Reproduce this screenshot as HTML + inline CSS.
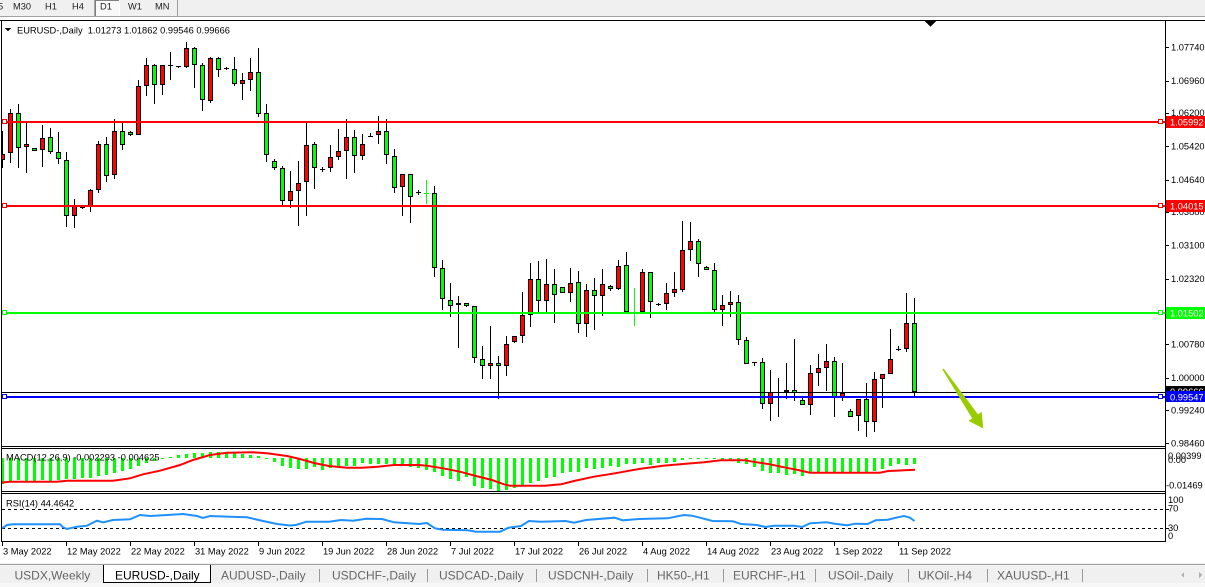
<!DOCTYPE html>
<html><head><meta charset="utf-8">
<style>
html,body{margin:0;padding:0;background:#fff;}
body{width:1205px;height:587px;overflow:hidden;position:relative;font-family:"Liberation Sans",Arial,sans-serif;}
svg{position:absolute;left:0;top:0;}
</style></head><body>
<svg id="s" width="1205" height="587" viewBox="0 0 1205 587" xmlns="http://www.w3.org/2000/svg" shape-rendering="crispEdges" font-family="Liberation Sans, Arial, sans-serif">
<defs>
<clipPath id="cm"><rect x="2" y="21" width="1163" height="425"/></clipPath>
<clipPath id="cd"><rect x="2" y="449" width="1163" height="42"/></clipPath>
<clipPath id="cr"><rect x="2" y="494" width="1163" height="47"/></clipPath>
</defs>
<rect x="0" y="0" width="1205" height="587" fill="#fff"/>
<!-- toolbar -->
<rect x="0" y="0" width="1205" height="17" fill="#f0f0f0"/>
<rect x="95" y="0" width="24" height="16" fill="#f9f9f9"/>
<line x1="0" y1="16.5" x2="1205" y2="16.5" stroke="#a0a0a0"/>
<line x1="94.5" y1="0" x2="94.5" y2="16" stroke="#a0a0a0"/>
<line x1="95.5" y1="0" x2="95.5" y2="16" stroke="#808080"/>
<line x1="95" y1="0.5" x2="119" y2="0.5" stroke="#808080"/>
<line x1="119.5" y1="0" x2="119.5" y2="16" stroke="#ffffff"/>
<line x1="177.5" y1="0" x2="177.5" y2="16" stroke="#a0a0a0"/>
<g font-size="9.3" fill="#222">
<text x="-2" y="9.5">5</text><text x="13" y="9.5">M30</text><text x="45" y="9.5">H1</text><text x="72" y="9.5">H4</text>
<text x="100" y="9.5">D1</text><text x="128" y="9.5">W1</text><text x="155" y="9.5">MN</text>
</g>
<!-- frames -->
<g stroke="#000" fill="none">
<line x1="0" y1="20.5" x2="1205" y2="20.5"/>
<line x1="1.5" y1="20" x2="1.5" y2="542"/>
<line x1="1165.5" y1="20" x2="1165.5" y2="542"/>
<line x1="1" y1="446.5" x2="1166" y2="446.5"/>
<line x1="1" y1="448.5" x2="1166" y2="448.5"/>
<line x1="1" y1="491.5" x2="1166" y2="491.5"/>
<line x1="1" y1="493.5" x2="1166" y2="493.5"/>
<line x1="1" y1="541.5" x2="1166" y2="541.5"/>
</g>
<polygon points="925,21 936,21 930.5,27" fill="#000"/>
<g id="candles" clip-path="url(#cm)"></g>
<!-- horizontal lines -->
<rect x="2" y="121" width="1163" height="2" fill="#ff0000"/>
<rect x="2" y="205" width="1163" height="2" fill="#ff0000"/>
<rect x="2" y="312" width="1163" height="2" fill="#00ff00"/>
<line x1="2" y1="392.5" x2="1165" y2="392.5" stroke="#000"/>
<rect x="2" y="396" width="1163" height="2" fill="#0000ff"/>
<g fill="#fff">
<rect x="2.5" y="119.5" width="4" height="4" stroke="#ff0000"/>
<rect x="2.5" y="203.5" width="4" height="4" stroke="#ff0000"/>
<rect x="2.5" y="310.5" width="4" height="4" stroke="#00ff00"/>
<rect x="2.5" y="394.5" width="4" height="4" stroke="#0000ff"/>
<rect x="1158.5" y="119.5" width="4" height="4" stroke="#ff0000"/>
<rect x="1158.5" y="203.5" width="4" height="4" stroke="#ff0000"/>
<rect x="1158.5" y="310.5" width="4" height="4" stroke="#00ff00"/>
<rect x="1158.5" y="394.5" width="4" height="4" stroke="#0000ff"/>
</g>
<!-- arrow -->
<polygon shape-rendering="auto" fill="#99cc00" points="943.7,368.6 978,414.4 981.7,411.9 983.3,428.5 968.5,420.9 972.2,418.4 942.3,369.4"/>
<!-- title -->
<polygon points="5,28 11,28 8,31.5" fill="#000"/>
<text x="17" y="33.3" font-size="9.3" fill="#000" xml:space="preserve">EURUSD-,Daily  1.01273 1.01862 0.99546 0.99666</text>
<!-- price axis -->
<g id="paxis" font-size="9.3" fill="#000"></g>
<g font-size="9.3" fill="#fff">
<rect x="1166" y="116" width="39" height="12" fill="#ff0000"/><text x="1170" y="125.3">1.05992</text>
<rect x="1166" y="200" width="39" height="12" fill="#ff0000"/><text x="1170" y="209.3">1.04015</text>
<rect x="1166" y="307" width="39" height="12" fill="#00ff00"/><text x="1170" y="316.3">1.01502</text>
<rect x="1166" y="386" width="39" height="11" fill="#000"/><text x="1170" y="395">0.99666</text>
<rect x="1166" y="391" width="39" height="11" fill="#0000ff"/><text x="1170" y="400.3">0.99547</text>
</g>
<!-- MACD -->
<g id="hist" clip-path="url(#cd)"></g>
<polyline clip-path="url(#cd)" shape-rendering="auto" fill="none" stroke="#ff0000" stroke-width="2" points="0,482.7 10,481.7 57,481.7 67,480.7 113,480.7 130,478.3 143,474.3 160,470.7 180,465 193,460 210,455 227,452.7 253,452.3 267,453.3 287,456 300,459 314,463 329,466 347,467.7 362,467.7 378,466.7 394,465 419,465 427,465.7 443,468.3 460,471.7 476,476 492,480 504,484.3 510,485.7 545,485.7 561,484.3 574,481 594,476.7 615,473.3 639,469 663,465.7 680,464.3 704,462.3 721,460.3 745,460.3 753,461.7 770,464.3 786,467.7 798,470 810,472.7 880,472.7 888,471 915,469.7"/>
<text x="6" y="460.5" font-size="9.3" fill="#000">MACD(12,26,9) -0.002293 -0.004625</text>
<g font-size="9.3" fill="#000">
<text x="1168" y="459">0.00399</text>
<text x="1168" y="463">0.00</text>
<text x="1166" y="488.5">-0.01469</text>
</g>
<!-- RSI -->
<g stroke="#000" stroke-dasharray="3,3">
<line x1="2" y1="509.5" x2="1165" y2="509.5"/>
<line x1="2" y1="528.5" x2="1165" y2="528.5"/>
</g>
<polyline clip-path="url(#cr)" shape-rendering="auto" fill="none" stroke="#1e90ff" stroke-width="2" points="2,528.3 7,525 13,524.3 60,524.3 63,527.3 67,529 77,526.7 87,525.7 97,520.7 103,522.3 113,520 130,519.3 140,515 150,516 163,515.3 183,514 197,516 203,518 210,516 230,516.7 247,517.3 263,521 277,524 290,525.5 296,525 306.5,521.7 329,521.7 341,520 353,520.7 366,518.7 382,519 394,522.3 419,524 427,523 435,528.3 443,529.7 468,530.3 476,531.7 500,531.7 508.5,527.7 521,526 529,521 541,521.7 565.6,521 574,522.7 586,520 614.6,517.7 622.7,520.3 639,519 667.6,518.3 684,515 692,515.7 700,517.7 712.5,521 733,521.3 741,524 757,525 765.5,527 773.7,525.7 794,525.7 802,527 810,523.3 826.7,522.3 835,523.7 847,525.3 855,523.7 867.5,524 875.7,520.3 888,519.7 896,517.7 904,516 910,517.7 914.5,521"/>
<text x="6" y="506.5" font-size="9.3" fill="#000">RSI(14) 44.4642</text>
<g font-size="9.3" fill="#000">
<text x="1168" y="503">100</text>
<text x="1168" y="511.5">70</text>
<text x="1168" y="531">30</text>
<text x="1168" y="539">0</text>
</g>
<g stroke="#000"><line x1="1165" y1="509.5" x2="1169" y2="509.5"/><line x1="1165" y1="528.5" x2="1169" y2="528.5"/></g>
<!-- date axis -->
<g id="daxis" font-size="9.3" fill="#000"></g>
<!-- tabs -->
<rect x="0" y="563" width="1205" height="24" fill="#f0f0f0"/>
<rect x="0" y="583" width="1205" height="4" fill="#f7f7f7"/>
<line x1="0" y1="564.5" x2="1205" y2="564.5" stroke="#a0a0a0"/>
<rect x="103" y="565" width="108" height="18" fill="#fff"/>
<g stroke="#000"><line x1="103.5" y1="565" x2="103.5" y2="583"/><line x1="210.5" y1="565" x2="210.5" y2="583"/><line x1="103" y1="582.5" x2="211" y2="582.5"/></g>
<g stroke="#9a9a9a">
<line x1="319.5" y1="569" x2="319.5" y2="582"/><line x1="427.5" y1="569" x2="427.5" y2="582"/><line x1="536.5" y1="569" x2="536.5" y2="582"/>
<line x1="647.5" y1="569" x2="647.5" y2="582"/><line x1="723.5" y1="569" x2="723.5" y2="582"/><line x1="815.5" y1="569" x2="815.5" y2="582"/>
<line x1="908.5" y1="569" x2="908.5" y2="582"/><line x1="987.5" y1="569" x2="987.5" y2="582"/><line x1="1082.5" y1="569" x2="1082.5" y2="582"/>
</g>
<g font-size="12" fill="#666">
<text x="14.5" y="579.5">USDX,Weekly</text>
<text x="115" y="579.5" fill="#000">EURUSD-,Daily</text>
<text x="221" y="579.5">AUDUSD-,Daily</text>
<text x="332" y="579.5">USDCHF-,Daily</text>
<text x="439" y="579.5">USDCAD-,Daily</text>
<text x="548" y="579.5">USDCNH-,Daily</text>
<text x="657" y="579.5">HK50-,H1</text>
<text x="733" y="579.5">EURCHF-,H1</text>
<text x="828" y="579.5">USOil-,Daily</text>
<text x="918" y="579.5">UKOil-,H4</text>
<text x="997" y="579.5">XAUUSD-,H1</text>
</g>
<polygon points="1184,572 1184,578 1181,575" fill="#b0b0b0"/>
<polygon points="1199,572 1199,578 1202,575" fill="#b0b0b0"/>
</svg>
<script>
(function(){
var D=[
[154.3,160,130.7,168.3,'r'],[113.3,153.3,109,162.7,'r'],[113.3,148.3,104,168.3,'g'],[144.3,147.3,122.7,172.7,'r'],[148.3,151.3,148.3,151.3,'g'],
[138.3,150.3,125,166.7,'r'],[137.3,152.3,128,154.3,'g'],[152.3,159.3,132,164.3,'g'],[160.3,216.3,152.3,227.3,'g'],[205.7,216.3,199.3,228.3,'r'],
[206.7,208.3,206,208.5,'g'],[190.3,206.7,189.3,212.3,'r'],[144.3,190.3,141.3,193.3,'r'],[144.3,176.3,137.3,182.3,'g'],[131.3,175.3,119,179.3,'r'],
[131.3,145.3,123.3,150.3,'g'],[132.3,135.3,131,136,'g'],[86.3,135.3,80,135.3,'r'],[65.3,86.3,58.3,96.3,'r'],[65.3,85.3,64,104.3,'g'],
[65.3,85.3,65.3,95.3,'r'],[65.3,66.3,52.3,80.3,'d'],[66.3,67.3,66.3,68.3,'d'],[48.3,67.3,42.3,68.3,'r'],[48.3,65.3,47.3,88.3,'g'],
[65.3,100.3,63.3,110.7,'g'],[58.3,101.3,57.3,103.3,'r'],[58.3,70.3,57.3,77.3,'g'],[68.3,69.3,67.3,70.3,'d'],[69.3,84.3,57.3,86.3,'g'],
[80.3,84.3,73.3,100.3,'r'],[72.3,80.3,58.3,91.3,'r'],[72.3,114.3,48.3,117.3,'g'],[113.3,155.3,104,162.3,'g'],[161.3,168.3,159,170.3,'g'],
[168.3,201,166,207.3,'g'],[191,201.3,171,208.3,'r'],[183.3,191.3,161,225.7,'r'],[145,182.3,122.3,215.7,'r'],[144,168.3,142,188.7,'g'],
[169.3,170,167.3,171.7,'d'],[157.3,168.3,145,171.7,'r'],[151.3,157.3,129,159.7,'r'],[137.3,151.3,119,178.7,'r'],[137.3,156.3,130,172.7,'g'],
[144.3,156.3,134,159.7,'r'],[136,137,133.3,137,'d'],[131.3,135.3,116,143.7,'r'],[131.3,155.3,119,163.7,'g'],[156.3,188.3,149.3,192.7,'g'],
[174.3,187.3,174.3,215.7,'r'],[174.3,197.3,174.3,222.7,'g'],[192,193,190,195,'d'],[193,193,180,203.7,'G'],[193.3,268.3,186,277.3,'g'],
[268.3,299.3,260,310,'g'],[300.3,306.3,283,316.7,'g'],[303,305.3,296,347.7,'r'],[303,306.3,303,307,'g'],[306.3,358.3,306.3,363.3,'g'],
[359.3,365.7,346,378.7,'g'],[363.3,365.7,326,378.7,'r'],[363.3,366.3,356,398.7,'g'],[344.3,366.3,336,375.7,'r'],[336.3,342.3,336.3,343.3,'r'],
[315.3,336.3,292,343.3,'r'],[279.3,315.3,263,327.3,'r'],[279.3,301.3,261,311.7,'g'],[284,301.3,259,311.7,'r'],[284,295.3,269,322.7,'g'],
[287.3,293.3,287.3,293.3,'g'],[283,293.3,268,301.7,'r'],[282,323.7,271,332.7,'g'],[290,323.7,284,336.7,'r'],[290,296.3,278,329.7,'g'],
[284,296.3,269,315.7,'r'],[286,288.7,285,290.7,'g'],[266,288.7,260,290,'r'],[265,311.7,252,311.7,'g'],[311.7,311.7,288,325.7,'G'],
[272,311.7,269,311.7,'r'],[272,302.3,272,317.7,'g'],[304.3,304.3,303,305.7,'d'],[293.3,304.3,283,310.3,'r'],[289.3,293.3,272,297.3,'r'],
[250.3,290,221,291.7,'r'],[241.3,250.3,222,260.7,'r'],[241.3,264.3,239.3,276.7,'g'],[267.3,270.3,266.3,270.3,'g'],[270.3,309.7,263.3,311.7,'g'],
[305.3,309.7,295.3,325.7,'r'],[302.3,305.3,291,316.7,'r'],[302.3,340.3,295.3,344.7,'g'],[340.3,364.3,337.3,364.3,'g'],[362.3,362.3,362.3,365.7,'d'],
[362.3,404.3,358.3,409.3,'g'],[392.3,404.3,370.3,420.7,'r'],[391.7,391.7,378.3,416.7,'d'],[390.3,392.3,363.3,399.3,'r'],[390.3,393.3,339.3,400.7,'g'],
[400.3,405.3,398.3,405.3,'g'],[373.3,405.3,365.3,414.7,'r'],[368.3,373.3,354.3,385.7,'r'],[361,368.3,344,390.7,'r'],[361,397.7,357.3,416.7,'g'],
[392.7,397.7,363,400.7,'r'],[411.3,417.3,409.3,417.3,'g'],[399,416.3,399,430.7,'r'],[399,422.3,383,436.7,'g'],[379,421.7,372.3,431.7,'r'],
[374.3,379.3,374.3,407.7,'r'],[359,374.3,329,374.3,'r'],[348.7,348.7,346.3,351.3,'d'],[323,348.7,293,351.7,'r'],[323,392.3,298,396.7,'g']
];
var h='';
for(var i=0;i<D.length;i++){
 var d=D[i],cx=8*i+2.5,x0=8*i+0.5,c=d[4];
 var wt=Math.round(d[2]),wb=Math.round(d[3]);
 var t=Math.round(d[0]),b=Math.round(d[1]);
 if(c==='G'){
  h+='<line x1="'+cx+'" y1="'+wt+'" x2="'+cx+'" y2="'+Math.max(wb,wt+1)+'" stroke="#00ff00"/>';
  h+='<rect x="'+(8*i)+'" y="'+t+'" width="5" height="1" fill="#00ff00"/>';
  continue;
 }
 if(wb>wt) h+='<line x1="'+cx+'" y1="'+wt+'" x2="'+cx+'" y2="'+wb+'" stroke="#000"/>';
 if(c==='d'||b-t<2){
  h+='<rect x="'+(8*i)+'" y="'+t+'" width="5" height="'+Math.max(1,b-t)+'" fill="#000"/>';
 } else {
  h+='<rect x="'+x0+'" y="'+(t+0.5)+'" width="4" height="'+(b-t-1)+'" fill="'+(c==='g'?'#00ff00':'#ff0000')+'" stroke="#000"/>';
 }
}
document.getElementById('candles').innerHTML=h;

var H=[484,482,480,481,481,480,481,480,479,479,478,478,476,475,473,471,469,466,463,461,459,457,455,454,453,453,452,452,453,453,454,455,456,459,462,466,468,469,469,467,470,468,466,466,466,463,464,464,464,466,466,467,468,470,472,476,479,481,477,486,488,489,491,490,488,485,483,481,478,477,473,472,472,468,469,468,466,467,464,464,463,465,463,463,462,460,459,459,459,459,460,461,463,464,467,471,473,473,475,474,476,473,472,472,472,472,472,472,472,471,469,466,464,465,464];
var z=458,hh='';
for(var j=0;j<H.length;j++){
 var y1=Math.min(z,H[j]),y2=Math.max(z,H[j]);
 if(y2-y1<1){y2=y1+1;}
 hh+='<rect x="'+(8*j+1)+'" y="'+y1+'" width="3" height="'+(y2-y1)+'" fill="#00ff00"/>';
}
document.getElementById('hist').innerHTML=hh;

var P=[['1.07740',47.2],['1.06960',80.5],['1.06200',112.9],['1.05420',146.2],['1.04640',179.5],['1.03880',211.9],['1.03100',245.2],['1.02320',278.5],['1.01540',311.8],['1.00780',344.2],['1.00000',377.5],['0.99240',410],['0.98460',443.2]];
var ph='';
for(var k=0;k<P.length;k++){
 var yy=Math.round(P[k][1])+0.5;
 ph+='<line x1="1165" y1="'+yy+'" x2="1169" y2="'+yy+'" stroke="#000"/>';
 ph+='<text x="1171" y="'+(P[k][1]+3.3)+'">'+P[k][0]+'</text>';
}
document.getElementById('paxis').innerHTML=ph;

var L=['3 May 2022','12 May 2022','22 May 2022','31 May 2022','9 Jun 2022','19 Jun 2022','28 Jun 2022','7 Jul 2022','17 Jul 2022','26 Jul 2022','4 Aug 2022','14 Aug 2022','23 Aug 2022','1 Sep 2022','11 Sep 2022'];
var dh='';
for(var m=0;m<L.length;m++){
 var tx=64*m+2.5;
 dh+='<line x1="'+tx+'" y1="542" x2="'+tx+'" y2="546" stroke="#000"/>';
 dh+='<text x="'+(tx+0.5)+'" y="554.5">'+L[m]+'</text>';
}
document.getElementById('daxis').innerHTML=dh;
})();
</script>
</body></html>
